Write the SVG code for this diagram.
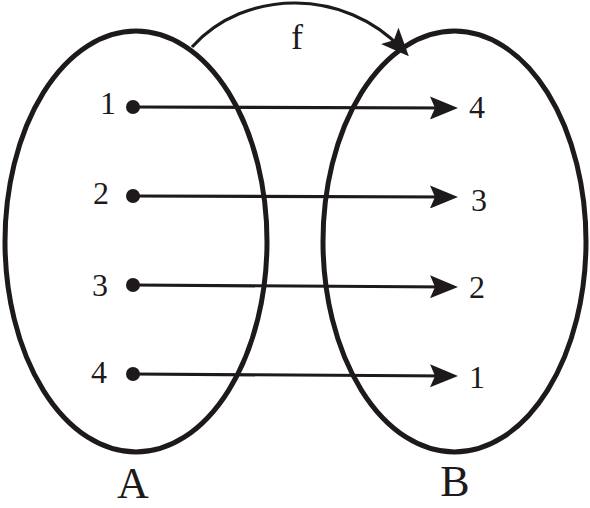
<svg xmlns="http://www.w3.org/2000/svg" width="590" height="508" viewBox="0 0 590 508">
  <style>
    .set { fill: none; stroke: #1e1a1b; stroke-width: 5; }
    .link { fill: none; stroke: #1e1a1b; stroke-width: 3.2; }
    .dot { fill: #1e1a1b; }
    .num { font-family: "Liberation Serif", "Times New Roman", serif; font-size: 32px; fill: #1e1a1b; text-anchor: middle; }
    .big { font-family: "Liberation Serif", "Times New Roman", serif; font-size: 44px; fill: #1e1a1b; text-anchor: middle; }
  </style>
  <defs>
    <marker id="arrow" viewBox="0 0 28 23" refX="20" refY="11.5" markerWidth="28" markerHeight="23" markerUnits="userSpaceOnUse" orient="auto">
      <path d="M0,0 L28,11.5 L0,23 L5,11.5 Z" fill="#1e1a1b"/>
    </marker>
    <marker id="arrowF" viewBox="0 0 28 24" refX="18" refY="12" markerWidth="28" markerHeight="24" markerUnits="userSpaceOnUse" orient="auto">
      <path d="M0,0 L28,12 L0,24 L6,12 Z" fill="#1e1a1b"/>
    </marker>
  </defs>

  <rect width="590" height="508" fill="#ffffff"/>

  <g id="setA">
    <ellipse class="set" cx="136" cy="241.5" rx="131" ry="210.5"/>
    <text class="big" x="133" y="498">A</text>
  </g>
  <g id="setB">
    <ellipse class="set" cx="454.5" cy="241.5" rx="131.5" ry="210.5"/>
    <text class="big" x="455" y="496">B</text>
  </g>

  <g id="a1"><circle class="dot" cx="133" cy="107" r="7"/><text class="num" x="108" y="114">1</text></g>
  <g id="a2"><circle class="dot" cx="133" cy="196" r="7"/><text class="num" x="101" y="204">2</text></g>
  <g id="a3"><circle class="dot" cx="133" cy="285" r="7"/><text class="num" x="100" y="296">3</text></g>
  <g id="a4"><circle class="dot" cx="133" cy="374" r="7"/><text class="num" x="99" y="383">4</text></g>

  <g id="b4"><text class="num" x="477" y="118">4</text></g>
  <g id="b3"><text class="num" x="479" y="211">3</text></g>
  <g id="b2"><text class="num" x="477" y="298">2</text></g>
  <g id="b1"><text class="num" x="477" y="388">1</text></g>

  <g id="f-label"><text class="num" x="297" y="49" style="font-size:36px">f</text></g>

  <g id="connectors">
    <path class="link" d="M133,107 L450,108" marker-end="url(#arrow)"/>
    <path class="link" d="M133,196 L450,197" marker-end="url(#arrow)"/>
    <path class="link" d="M133,285 L450,287" marker-end="url(#arrow)"/>
    <path class="link" d="M133,374 L450,376" marker-end="url(#arrow)"/>
    <path class="link" d="M192,47 C245,-12 345,-12 402,49" marker-end="url(#arrowF)"/>
  </g>
</svg>
